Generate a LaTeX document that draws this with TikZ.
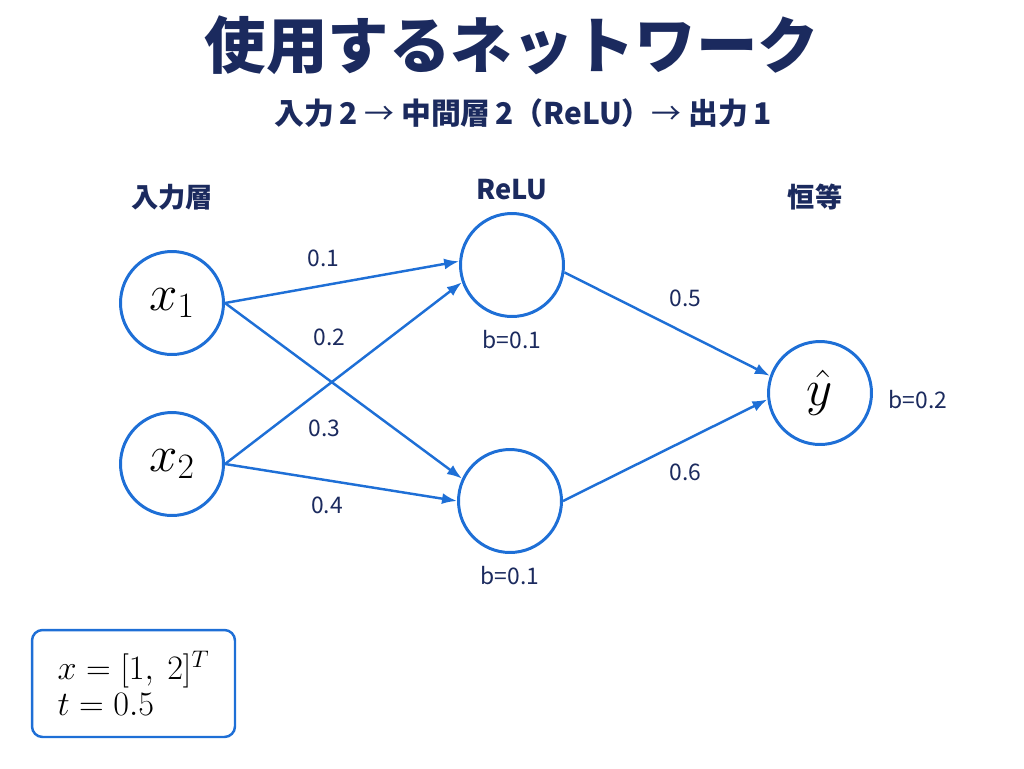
\documentclass[tikz,border=0pt]{standalone}
\usepackage{fix-cm}
\usepackage[no-math]{fontspec}
\setmainfont{Noto Sans CJK JP}
\usepackage{amsmath}
\usepackage{tikz}
\usetikzlibrary{arrows.meta}
\definecolor{inkblue}{HTML}{1B2A5E}
\definecolor{linkblue}{HTML}{1E6FD6}
\tikzset{node distance=1.5cm,
  neuron/.style={circle, draw=linkblue, line width=1.7pt, minimum size=2.06cm, inner sep=0pt, text=black, font=\fontsize{29}{30}\selectfont},
  wire/.style={-{Latex[length=0.3cm,width=0.22cm]}, draw=linkblue, line width=1.4pt},
  wt/.style={text=inkblue, anchor=center, inner sep=0pt, font=\fontsize{13}{15}\selectfont},
  head/.style={text=inkblue, font=\fontsize{15.5}{18}\selectfont\bfseries}}

\begin{document}
\begin{tikzpicture}[x=0.02cm, y=-0.02cm]
                \useasboundingbox (0,0) rectangle (1024,768);
                \node (title) at (512,45) [text=inkblue, font=\fontsize{35}{40}\selectfont\bfseries] {使用するネットワーク};
                \node (sub)   at (523,113) [head, font=\fontsize{17}{20}\selectfont\bfseries] {入力\,2 {\mdseries →} 中間層\,2（ReLU）{\mdseries →} 出力\,1};

                \node[neuron] (x1) at (172,303) {$x_1$};
                \node[neuron] (x2) at (172,464) {$x_2$};
                \node[neuron] (h1) at (512,265) {};
                \node[neuron] (h2) at (510,501) {};
                \node[neuron] (y)  at (820,393) {$\hat{y}$};

                \node[head] (lin)   at (172,197) {入力層};
                \node[head] (lrelu) at (512,190) {ReLU};
                \node[head] (lid)   at (815,197) {恒等};

                \node[wt] (b1) [below of=h1] {b=0.1};
                \node[wt] (b2) [below of=h2] {b=0.1};
                \node[wt] (b3) at (918,400) {b=0.2};

                \draw[wire] (x1.east) to node[wt, pos=.42, yshift=.55cm]  (w1) {0.1} (h1.176);
                \draw[wire] (x1.east) to node[wt, pos=.44, yshift=.86cm]  (w2) {0.2} (h2.155);
                \draw[wire] (x2.east) to node[wt, pos=.42, yshift=-.81cm] (w3) {0.3} (h1.199);
                \draw[wire] (x2.east) to node[wt, pos=.44, yshift=-.51cm] (w4) {0.4} (h2.west);
                \draw[wire] (h1.352)  to node[wt, pos=.59, yshift=.70cm]  (w5) {0.5} (y.161);
                \draw[wire] (h2.east) to node[wt, pos=.60, yshift=-.64cm] (w6) {0.6} (y.187);

                \node (given) at (133.5,683.5) [draw=linkblue, line width=1.4pt, rounded corners=6pt, minimum width=4.06cm, minimum height=2.14cm, align=left, font=\fontsize{19.5}{20.5}\selectfont] {$x = [1,\ 2]^T$\\ $t = 0.5$};
              \end{tikzpicture}
\end{document}
